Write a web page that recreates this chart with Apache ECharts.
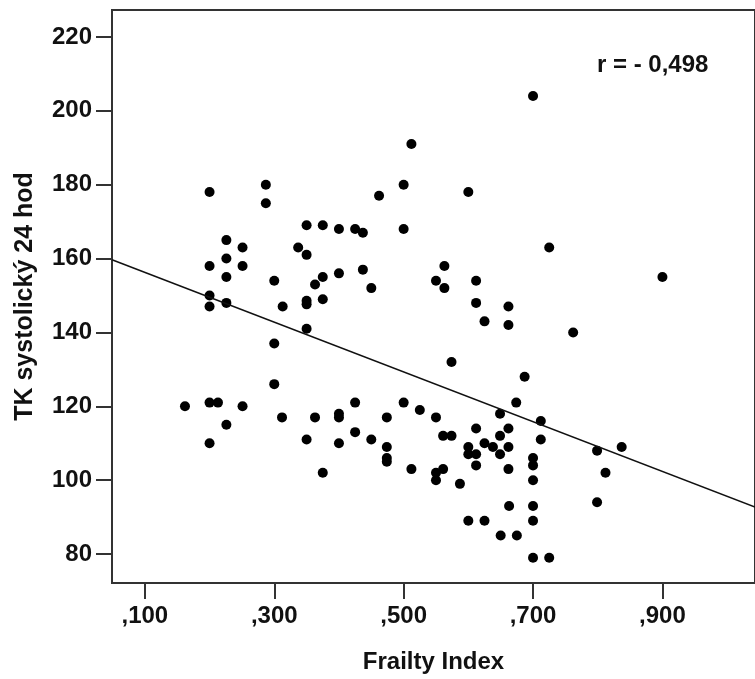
<!DOCTYPE html>
<html>
<head>
<meta charset="utf-8">
<title>Frailty Index vs TK systolický 24 hod</title>
<script src="https://cdn.jsdelivr.net/npm/echarts@6/dist/echarts.min.js"></script>
<style>
  html, body { margin: 0; padding: 0; background: #fff; }
  #chart { width: 755px; height: 679px; }
</style>
</head>
<body>
<div id="chart"></div>
<script>
// Frailty Index (x) and TK systolický 24 hod (y), one entry per patient
const frailtyIndex = [
  0.162, 0.200, 0.200, 0.200, 0.200, 0.200, 0.213, 0.200, 0.226, 0.226,
  0.226, 0.226, 0.226, 0.251, 0.251, 0.251, 0.287, 0.287, 0.300, 0.300,
  0.300, 0.313, 0.312, 0.337, 0.350, 0.350, 0.350, 0.350, 0.350, 0.350,
  0.363, 0.363, 0.375, 0.375, 0.375, 0.375, 0.400, 0.400, 0.400, 0.400,
  0.400, 0.425, 0.437, 0.437, 0.450, 0.425, 0.425, 0.450, 0.462, 0.474,
  0.474, 0.474, 0.474, 0.500, 0.500, 0.500, 0.512, 0.512, 0.525, 0.550,
  0.563, 0.563, 0.550, 0.561, 0.574, 0.574, 0.561, 0.550, 0.550, 0.587,
  0.600, 0.600, 0.600, 0.600, 0.612, 0.612, 0.612, 0.612, 0.612, 0.625,
  0.625, 0.625, 0.638, 0.649, 0.649, 0.649, 0.650, 0.662, 0.662, 0.662,
  0.662, 0.662, 0.663, 0.674, 0.675, 0.687, 0.700, 0.700, 0.700, 0.700,
  0.700, 0.700, 0.700, 0.712, 0.712, 0.725, 0.725, 0.762, 0.799, 0.837,
  0.812, 0.799, 0.900
]
const tkSystolic = [
  120, 178, 158, 150, 147, 121, 121, 110, 165, 160,
  155, 148, 115, 163, 158, 120, 180, 175, 154, 137,
  126, 147, 117, 163, 169, 161, 148.6, 147.6, 141, 111,
  153, 117, 169, 155, 149, 102, 168, 156, 118, 117,
  110, 168, 167, 157, 152, 121, 113, 111, 177, 117,
  109, 106, 105, 180, 168, 121, 191, 103, 119, 154,
  158, 152, 117, 112, 112, 132, 103, 102, 100, 99,
  178, 109, 107, 89, 154, 148, 114, 107, 104, 143,
  110, 89, 109, 118, 112, 107, 85, 147, 142, 114,
  109, 103, 93, 121, 85, 128, 204, 106, 104, 100,
  93, 89, 79, 116, 111, 163, 79, 140, 108, 109,
  102, 94, 155
]

// axis ticks
const xTicks = [0.1, 0.3, 0.5, 0.7, 0.9]
const xTickLabels = [',100', ',300', ',500', ',700', ',900']
const yTicks = [80, 100, 120, 140, 160, 180, 200, 220]

// linear fit as drawn on the figure
const fitIntercept = 163.0
const fitSlope = -67.4
const corrLabel = 'r = - 0,498'

const X_MIN = 0.0492
const X_MAX = 1.0431
const Y_MIN = 72.16
const Y_MAX = 227.3

const FONT = '"Liberation Sans", Arial, sans-serif'

const points = frailtyIndex.map((x, i) => [x, tkSystolic[i]])
const fitLine = [
  [X_MIN, fitIntercept + fitSlope * X_MIN],
  [X_MAX, fitIntercept + fitSlope * X_MAX]
]

const chart = echarts.init(document.getElementById('chart'), null, { renderer: 'canvas' })

chart.setOption({
  animation: false,
  backgroundColor: '#fff',
  textStyle: { fontFamily: FONT },
  grid: {
    left: 112,
    right: -3,
    top: 10,
    bottom: 95,
    show: true,
    borderColor: '#333',
    borderWidth: 2,
    backgroundColor: 'transparent'
  },
  xAxis: {
    type: 'value',
    min: X_MIN,
    max: X_MAX,
    name: 'Frailty Index',
    nameLocation: 'middle',
    nameGap: 67,
    nameTextStyle: { color: '#111', fontSize: 24, fontWeight: 'bold', fontFamily: FONT },
    splitLine: { show: false },
    axisLine: { show: true, onZero: false, lineStyle: { color: '#333', width: 2 } },
    axisTick: { show: true, length: 16, customValues: xTicks, lineStyle: { color: '#333', width: 2 } },
    axisLabel: {
      customValues: xTicks,
      margin: 21,
      color: '#111',
      fontSize: 24,
      fontWeight: 'bold',
      fontFamily: FONT,
      formatter: v => xTickLabels[xTicks.findIndex(t => Math.abs(t - v) < 1e-6)] || ''
    }
  },
  yAxis: {
    type: 'value',
    min: Y_MIN,
    max: Y_MAX,
    name: 'TK systolický 24 hod',
    nameLocation: 'middle',
    nameGap: 74,
    nameTextStyle: { color: '#111', fontSize: 25, fontWeight: 'bold', fontFamily: FONT },
    splitLine: { show: false },
    axisLine: { show: true, onZero: false, lineStyle: { color: '#333', width: 2 } },
    axisTick: { show: true, length: 16, customValues: yTicks, lineStyle: { color: '#333', width: 2 } },
    axisLabel: {
      customValues: yTicks,
      margin: 20,
      color: '#111',
      fontSize: 24,
      fontWeight: 'bold',
      fontFamily: FONT
    }
  },
  series: [
    {
      type: 'scatter',
      data: points,
      symbol: 'circle',
      symbolSize: 10,
      itemStyle: { color: '#000', opacity: 1 },
      silent: true
    },
    {
      type: 'line',
      data: fitLine,
      symbol: 'none',
      lineStyle: { color: '#111', width: 1.5 },
      silent: true
    }
  ],
  graphic: [
    {
      type: 'text',
      left: 597,
      top: 53,
      style: { text: corrLabel, fill: '#111', font: 'bold 24px ' + FONT }
    }
  ]
})
</script>
</body>
</html>
